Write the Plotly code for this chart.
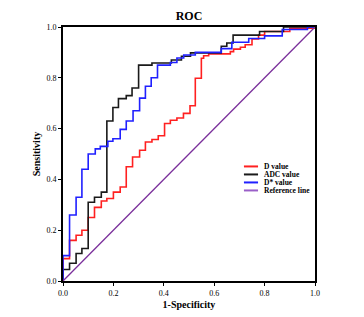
import plotly.graph_objects as go

# ---- data ----
series_names = ["D value", "ADC value", "D* value", "Reference line"]
series_colors = ["#ff2020", "#1a1a1a", "#2020ff", "#7a2f9b"]

d_fpr = [0, 0, 0.026, 0.052, 0.075, 0.10, 0.125, 0.152, 0.174, 0.20, 0.227, 0.251, 0.276,
         0.304, 0.327, 0.353, 0.378, 0.403, 0.426, 0.452, 0.478, 0.504, 0.525, 0.549, 0.558,
         0.578, 0.664, 0.677, 0.704, 0.723, 0.75, 0.776, 0.80, 0.90, 1.0]
d_tpr = [0, 0.088, 0.16, 0.18, 0.20, 0.25, 0.29, 0.315, 0.325, 0.35, 0.37, 0.45, 0.488,
         0.515, 0.547, 0.557, 0.572, 0.62, 0.633, 0.642, 0.66, 0.69, 0.798, 0.877, 0.887,
         0.894, 0.903, 0.913, 0.92, 0.93, 0.953, 0.968, 0.982, 0.995, 1.0]

adc_fpr = [0, 0, 0.026, 0.052, 0.075, 0.10, 0.125, 0.152, 0.174, 0.198, 0.22, 0.251, 0.274,
           0.30, 0.353, 0.43, 0.47, 0.506, 0.628, 0.65, 0.675, 0.78, 0.875, 1.0]
adc_tpr = [0, 0.045, 0.07, 0.108, 0.128, 0.31, 0.33, 0.35, 0.63, 0.683, 0.718, 0.73, 0.76,
           0.85, 0.858, 0.87, 0.885, 0.898, 0.924, 0.937, 0.968, 0.982, 1.0, 1.0]

dstar_fpr = [0, 0, 0.026, 0.052, 0.075, 0.10, 0.128, 0.148, 0.178, 0.198, 0.227, 0.251, 0.278,
             0.304, 0.327, 0.35, 0.375, 0.426, 0.452, 0.479, 0.525, 0.628, 0.67, 0.737, 0.80,
             0.87, 0.97, 1.0]
dstar_tpr = [0, 0.10, 0.26, 0.33, 0.44, 0.50, 0.52, 0.53, 0.55, 0.56, 0.597, 0.63, 0.67,
             0.72, 0.767, 0.80, 0.85, 0.86, 0.878, 0.89, 0.90, 0.915, 0.94, 0.955, 0.965,
             0.99, 1.0, 1.0]

ref_x = [0, 1]
ref_y = [0, 1]

tick_vals = [0.0, 0.2, 0.4, 0.6, 0.8, 1.0]
tick_text = ["0.0", "0.2", "0.4", "0.6", "0.8", "1.0"]

FONT = "Liberation Serif"

fig = go.Figure()
curves = [(d_fpr, d_tpr, "hv"), (adc_fpr, adc_tpr, "hv"), (dstar_fpr, dstar_tpr, "hv"), (ref_x, ref_y, "linear")]
for (xs, ys, shp), name, col in zip(curves, series_names, series_colors):
    fig.add_trace(go.Scatter(x=xs, y=ys, mode="lines", name=name,
                             line=dict(color=col, width=1.6 if shp == "hv" else 1.3, shape=shp),
                             showlegend=False))

# manual compact legend
leg_x0, leg_x1, leg_tx = 0.718, 0.774, 0.792
leg_top, leg_step = 0.451, 0.0315
legend_colors = ["#ff2020", "#1a1a1a", "#2020ff", "#9a5fc8"]
for i, (name, col) in enumerate(zip(series_names, legend_colors)):
    yy = leg_top - i * leg_step
    fig.add_shape(type="line", xref="paper", yref="paper", x0=leg_x0, x1=leg_x1, y0=yy, y1=yy,
                  line=dict(color=col, width=2))
    fig.add_annotation(xref="paper", yref="paper", x=leg_tx, y=yy, text="<b>%s</b>" % name,
                       showarrow=False, xanchor="left", yanchor="middle", borderpad=0,
                       font=dict(family=FONT, size=7.5, color="black"))

axis_common = dict(range=[0, 1], tickvals=tick_vals, ticktext=tick_text,
                   showgrid=False, zeroline=False, showline=True, linecolor="black",
                   linewidth=1.8, mirror=True, ticks="outside", ticklen=3, tickwidth=1,
                   tickcolor="black", tickfont=dict(family=FONT, size=8, color="black"))

fig.update_layout(
    width=364, height=317,
    margin=dict(l=55, r=57, t=19, b=44),
    paper_bgcolor="white", plot_bgcolor="white",
    title=dict(text="<b>ROC</b>", x=0.5, xanchor="center", y=0.975, yanchor="middle",
               xref="paper", font=dict(family=FONT, size=12, color="black")),
    xaxis=dict(title=dict(text="<b>1-Specificity</b>", standoff=4,
                          font=dict(family=FONT, size=10, color="black")), **axis_common),
    yaxis=dict(title=dict(text="<b>Sensitivity</b>", standoff=4,
                          font=dict(family=FONT, size=10, color="black")), **axis_common),
)

fig.write_html("out.html")
